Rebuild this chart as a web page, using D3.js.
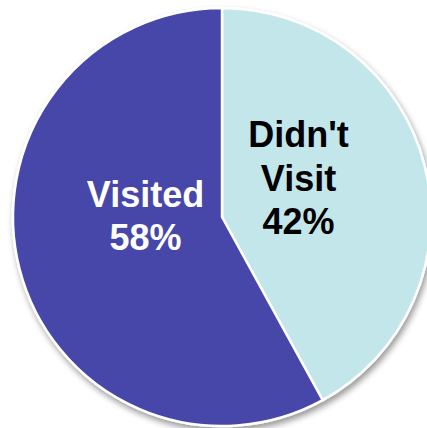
<!DOCTYPE html>
<html><head><meta charset="utf-8">
<script src="https://cdn.jsdelivr.net/npm/d3@7"></script>
<style>html,body{margin:0;padding:0;background:#fff;overflow:hidden}</style>
</head><body>
<svg id="c" width="427" height="428"></svg>
<script>
const categories = ["Didn't Visit", "Visited"];
const values = [42, 58];
const labelLines = [["Didn't", "Visit", "42%"], ["Visited", "58%"]];
const colors = ["#C3E6EA", "#4646AA"];
const textColors = ["#000000", "#FFFFFF"];

const svg = d3.select("#c");
const cx = 222, cy = 217, r = 209;
const defs = svg.append("defs");
const f = defs.append("filter").attr("id","sh").attr("x","-20%").attr("y","-20%").attr("width","140%").attr("height","140%");
f.append("feDropShadow").attr("dx",2).attr("dy",4).attr("stdDeviation",3).attr("flood-color","#000").attr("flood-opacity",0.4);

const g = svg.append("g").attr("transform",`translate(${cx},${cy})`);
const pie = d3.pie().sort(null).value(d=>d)(values);
const arc = d3.arc().innerRadius(0).outerRadius(r);
g.append("g").attr("filter","url(#sh)").selectAll("path").data(pie).join("path")
  .attr("d",arc).attr("fill",(d,i)=>colors[i]).attr("stroke","#fff").attr("stroke-width",2.5).attr("stroke-linejoin","round");

const labelPos = [[298.5-cx, 147-cy, 43.5], [145.5-cx, 207-cy, 42.5]];
pie.forEach((d,i)=>{
  const [x,y,lh] = labelPos[i];
  const t = g.append("text").attr("text-anchor","middle").attr("fill",textColors[i])
    .attr("font-family","Liberation Sans, Arial, sans-serif").attr("font-weight","bold").attr("font-size",36);
  labelLines[i].forEach((s,j)=>t.append("tspan").attr("x",x).attr("y",y+j*lh).text(s));
});
</script>
</body></html>
